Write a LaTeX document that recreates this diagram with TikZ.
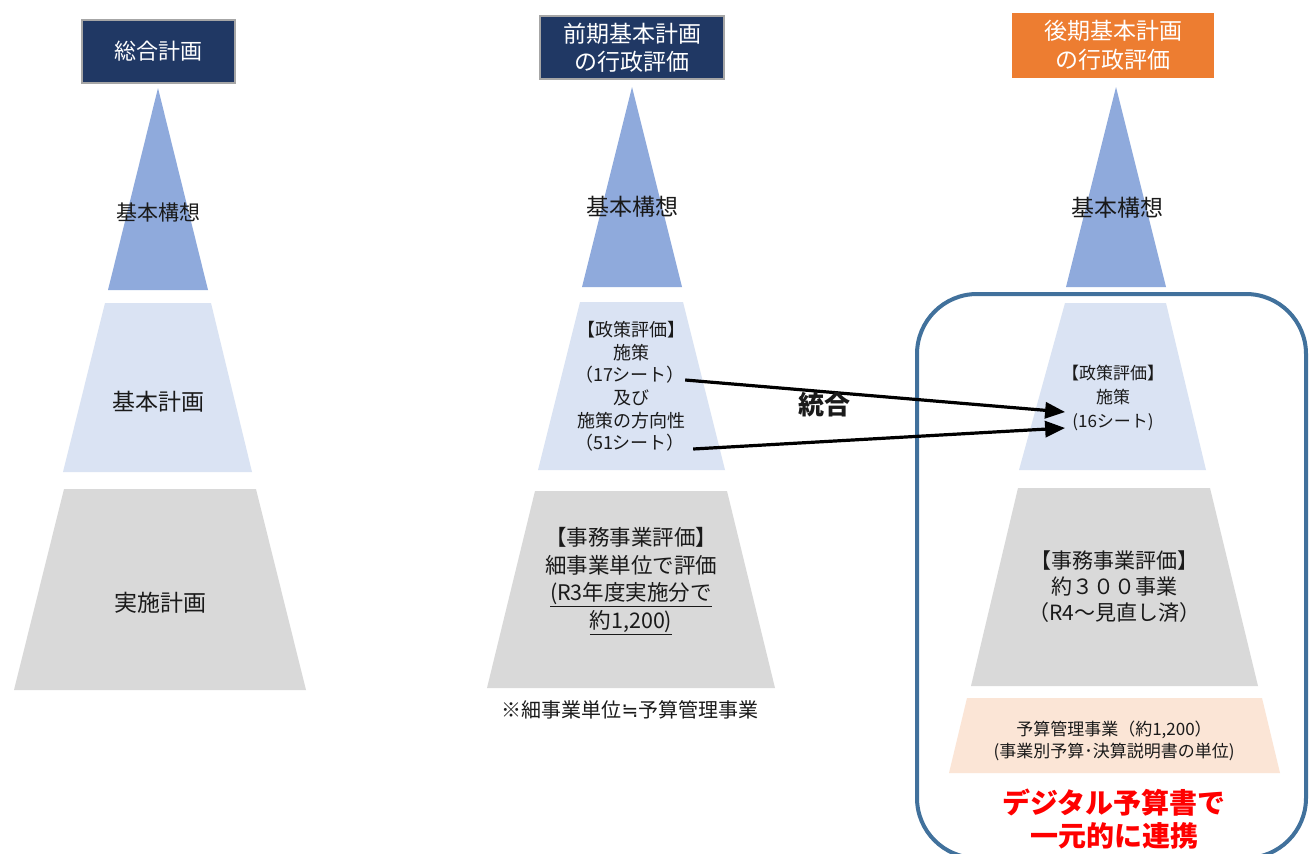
\documentclass[tikz,border=0pt]{standalone}
\usepackage{fontspec}
\setmainfont{Noto Sans CJK JP}
\newfontfamily\symfont{DejaVu Sans}
\usetikzlibrary{arrows.meta}
\definecolor{navy}{HTML}{203864}
\definecolor{boxedge}{HTML}{A6A6A6}
\definecolor{orng}{HTML}{ED7D31}
\definecolor{tri}{HTML}{8FAADC}
\definecolor{ltblue}{HTML}{DAE3F3}
\definecolor{gry}{HTML}{D9D9D9}
\definecolor{peach}{HTML}{FBE5D6}
\definecolor{frame}{HTML}{41719C}
\definecolor{txt}{HTML}{1A1A1A}
\definecolor{redtxt}{HTML}{FF0000}
\newcommand\fsz[2]{\fontsize{#1}{#2}\selectfont}
\begin{document}
\begin{tikzpicture}[x=1pt,y=-1pt,
  every node/.style={inner sep=0pt, align=center, text=txt},
  titlebox/.style={fill=navy, draw=boxedge, line width=1.2pt, text=white},
  orangebox/.style={fill=orng, text=white},
  apex/.style={fill=tri},
  midlayer/.style={fill=ltblue},
  lowlayer/.style={fill=gry},
  budlayer/.style={fill=peach},
  merge/.style={line width=3.2pt, -{Triangle[length=20pt,width=16pt]}},
]
\useasboundingbox (0,0) rectangle (1310,854);
\fill[white] (0,0) rectangle (1310,854);

% ---------------- left column
\node[titlebox, minimum width=153pt, minimum height=63pt, font=\fsz{22}{26}] (lt) at (158.5,51.5) {総合計画};
\fill[apex] (158,88) -- (208,290) -- (108,290) -- cycle;
\node[font=\fsz{21}{25}] (l1) at (158,213) {基本構想};
\fill[midlayer] (105,303) -- (211,303) -- (252,472) -- (63,472) -- cycle;
\node[font=\fsz{23}{27}] (l2) at (158,402) {基本計画};
\fill[lowlayer] (64,489) -- (256,489) -- (306,690) -- (14,690) -- cycle;
\node[font=\fsz{23}{27}] (l3) at (160,603) {実施計画};

% ---------------- middle column
\node[titlebox, minimum width=184pt, minimum height=63pt, font=\fsz{23}{28}] (mt) at (632,47.5) {前期基本計画\\の行政評価};
\fill[apex] (632,87) -- (682,287) -- (582,287) -- cycle;
\node[font=\fsz{23}{27}] (m1) at (632,207) {基本構想};
\fill[midlayer] (580,302) -- (683,302) -- (725,470) -- (538,470) -- cycle;
\node[font=\fsz{18}{22.6}] (m2a) at (631,341) {【政策評価】\\施策};
\node[font=\fsz{18}{22.6}] (m17) at (630,375) {（17シート）};
\node[font=\fsz{18}{22.6}] (m2b) at (631,409.5) {及び\\施策の方向性};
\node[font=\fsz{18}{22.6}] (m51) at (630,443) {（51シート）};
\fill[lowlayer] (535,491) -- (727,491) -- (775,688) -- (487,688) -- cycle;
\node[font=\fsz{21.5}{27.5}] (m3) at (631,581) {【事務事業評価】\\細事業単位で評価\\\underline{(R3年度実施分で}\\\underline{約1,200)}};
\node[font=\fsz{20}{24}] (mn) at (630,710) {※細事業単位{\symfont ≒}予算管理事業};

% ---------------- right column
\node[orangebox, minimum width=202pt, minimum height=65pt, font=\fsz{23}{29}] (rt) at (1113,45.5) {後期基本計画\\の行政評価};
\fill[apex] (1116,87) -- (1166,287) -- (1066,287) -- cycle;
\node[font=\fsz{23}{27}] (r1) at (1117,208) {基本構想};
\draw[frame, line width=4pt, rounded corners=60pt] (917,294) rectangle (1306,858);
\fill[midlayer] (1065,303) -- (1166,303) -- (1206,470) -- (1019,470) -- cycle;
\node[font=\fsz{17}{24.5}] (r2a) at (1113,385) {【政策評価】\\施策};
\node[font=\fsz{17}{24.5}] (r16) at (1113,422) {(16シート)};
\fill[lowlayer] (1018,488) -- (1210,488) -- (1258,686) -- (971,686) -- cycle;
\node[font=\fsz{21}{26}] (r3) at (1114,587) {【事務事業評価】\\約３００事業\\（R4～見直し済）};
\fill[budlayer] (967,698) -- (1262,698) -- (1280,773) -- (949,773) -- cycle;
\node[font=\fsz{17}{22}] (r4) at (1114,741) {予算管理事業（約1,200）\\(事業別予算･決算説明書の単位)};
\node[font=\fsz{28}{33}\bfseries, text=redtxt] (r5) at (1114,819) {デジタル予算書で\\一元的に連携};

% ---------------- merge arrows
\coordinate (s1) at ([xshift=0pt,yshift=-5pt]m17.east);
\coordinate (s2) at ([xshift=8pt,yshift=-6pt]m51.east);
\coordinate (e1) at ([xshift=-7pt,yshift=10pt]r16.west);
\coordinate (e2) at ([xshift=-7pt,yshift=-6pt]r16.west);
\draw[merge] (s1) -- (e1);
\draw[merge] (s2) -- (e2);
\node[font=\fsz{26}{30}\bfseries] (tg) at (824,405) {統合};
\end{tikzpicture}
\end{document}
